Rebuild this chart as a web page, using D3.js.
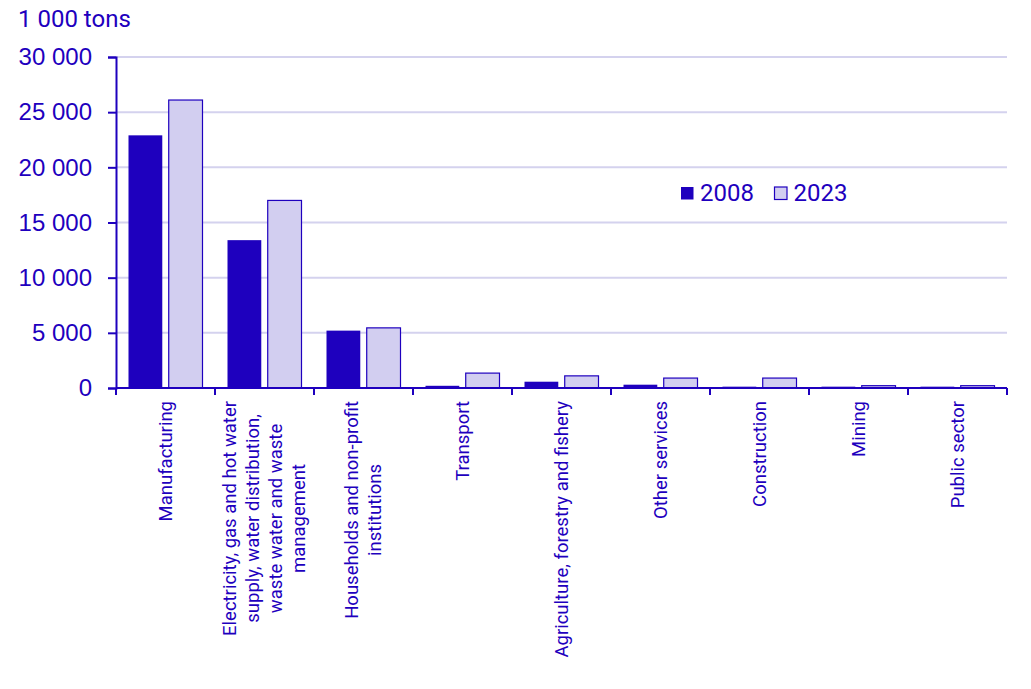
<!DOCTYPE html>
<html>
<head>
<meta charset="utf-8">
<script src="https://d3js.org/d3.v7.min.js"></script>
<style>
  body { margin: 0; background: #fff; }
  svg { font-family: Roboto, "Noto Sans", sans-serif; }
</style>
</head>
<body>
<script>
// Emissions by sector, 1 000 tons
const categories = [
  ['Manufacturing'],
  ['Electricity, gas and hot water', 'supply, water distribution,', 'waste water and waste', 'management'],
  ['Households and non-profit', 'institutions'],
  ['Transport'],
  ['Agriculture, forestry and fishery'],
  ['Other services'],
  ['Construction'],
  ['Mining'],
  ['Public sector']
];
const seriesNames = ['2008', '2023'];
const values2008 = [22900, 13400, 5200, 200, 570, 300, 120, 120, 120];
const values2023 = [26100, 17000, 5450, 1350, 1100, 900, 900, 210, 210];
const yTicks = [0, 5000, 10000, 15000, 20000, 25000, 30000];

const width = 1031, height = 689;
const margin = { left: 116, right: 24, top: 57, bottom: 301 };
const dark = '#1E00BE', light = '#D2CEF0', grid = '#D4D2EE';

const svg = d3.select('body').append('svg')
  .attr('width', width)
  .attr('height', height);

const x0 = d3.scaleBand()
  .domain(d3.range(categories.length))
  .range([margin.left, width - margin.right])
  .padding(0);

const x1 = d3.scaleBand()
  .domain(seriesNames)
  .range([12.5, x0.bandwidth() - 12.5])
  .paddingInner(0.16);

const y = d3.scaleLinear()
  .domain([0, 30000])
  .range([height - margin.bottom, margin.top]);

const fmt = v => d3.format(',')(v).replace(/,/g, ' ');

// gridlines
svg.append('g')
  .selectAll('line')
  .data(yTicks.slice(1))
  .enter().append('line')
  .attr('x1', margin.left)
  .attr('x2', width - margin.right)
  .attr('y1', d => y(d))
  .attr('y2', d => y(d))
  .attr('stroke', grid)
  .attr('stroke-width', 2);

// bars
const series = [values2008, values2023];
const groups = svg.append('g')
  .selectAll('g')
  .data(categories)
  .enter().append('g')
  .attr('transform', (d, i) => `translate(${x0(i)},0)`);

groups.selectAll('rect')
  .data((d, i) => seriesNames.map((s, k) => ({ s: s, v: series[k][i] })))
  .enter().append('rect')
  .attr('x', d => x1(d.s))
  .attr('width', x1.bandwidth())
  .attr('y', d => y(d.v))
  .attr('height', d => y(0) - y(d.v))
  .attr('fill', d => d.s === '2008' ? dark : light)
  .attr('stroke', dark)
  .attr('stroke-width', d => d.s === '2008' ? 0 : 1.2);

// y axis
const yAxis = svg.append('g')
  .attr('transform', `translate(${margin.left},0)`)
  .call(d3.axisLeft(y).tickValues(yTicks).tickFormat(fmt).tickSize(8).tickPadding(16));
yAxis.select('.domain').attr('stroke', dark).attr('stroke-width', 2);
yAxis.selectAll('.tick line').attr('stroke', dark).attr('stroke-width', 2);
yAxis.selectAll('.tick text')
  .attr('fill', dark)
  .style('font-size', '24px');

// x axis line and ticks at category boundaries
const xAxis = svg.append('g');
xAxis.append('line')
  .attr('x1', margin.left)
  .attr('x2', width - margin.right)
  .attr('y1', y(0))
  .attr('y2', y(0))
  .attr('stroke', dark)
  .attr('stroke-width', 2);
xAxis.selectAll('.xtick')
  .data(d3.range(categories.length + 1))
  .enter().append('line')
  .attr('class', 'xtick')
  .attr('x1', i => i < categories.length ? x0(i) : x0.range()[1])
  .attr('x2', i => i < categories.length ? x0(i) : x0.range()[1])
  .attr('y1', y(0))
  .attr('y2', y(0) + 7)
  .attr('stroke', dark)
  .attr('stroke-width', 2);

// rotated category labels, lines centred on each other
const labelTop = 401;
const lineGap = 23;
const labels = svg.append('g')
  .selectAll('text')
  .data(categories)
  .enter().append('text')
  .attr('fill', dark)
  .style('font-size', '18.5px')
  .attr('text-anchor', 'middle');

labels.each(function (lines, i) {
  const t = d3.select(this);
  lines.forEach((ln, j) => {
    t.append('tspan')
      .attr('x', 0)
      .attr('dy', j === 0 ? 0 : lineGap)
      .text(ln);
  });
  let maxLen = 0;
  t.selectAll('tspan').each(function () {
    maxLen = Math.max(maxLen, this.getComputedTextLength());
  });
  const cx = x0(i) + x0.bandwidth() / 2;
  const blockShift = (lines.length - 1) * lineGap / 2;
  // after rotation, dy runs along +x; centre the block on the band
  t.attr('transform',
    `translate(${cx - blockShift + 6},${labelTop + maxLen / 2}) rotate(-90)`);
});

// unit label
svg.append('text')
  .attr('x', 18)
  .attr('y', 27)
  .attr('fill', dark)
  .style('font-size', '24px')
  .text('1 000 tons');

// legend
const legend = svg.append('g')
  .selectAll('g')
  .data(seriesNames)
  .enter().append('g')
  .attr('transform', (d, i) => `translate(${681 + i * 93.5},187)`);
legend.append('rect')
  .attr('width', 12.5)
  .attr('height', 12.5)
  .attr('fill', d => d === '2008' ? dark : light)
  .attr('stroke', dark)
  .attr('stroke-width', d => d === '2008' ? 0 : 1.2);
legend.append('text')
  .attr('x', 19)
  .attr('y', 14)
  .attr('fill', dark)
  .style('font-size', '24px')
  .text(d => d);
</script>
</body>
</html>
